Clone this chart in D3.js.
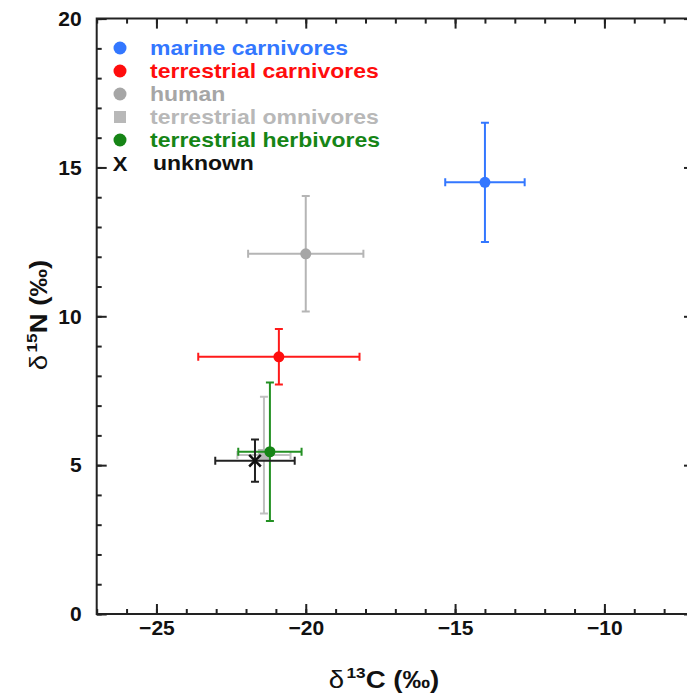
<!DOCTYPE html>
<html>
<head>
<meta charset="utf-8">
<script src="https://cdn.jsdelivr.net/npm/d3@7"></script>
<style>
  body { margin: 0; background: #fff; }
  svg { display: block; font-family: "Liberation Sans", Arial, sans-serif; }
</style>
</head>
<body>
<svg id="chart" width="687" height="694"></svg>
<script>
// groups, means and standard deviations
const groups = ["marine carnivores", "terrestrial carnivores", "human",
                "terrestrial omnivores", "terrestrial herbivores", "unknown"];
const d13C    = [-14.0, -20.9, -20.0, -21.4, -21.2, -21.7];
const d13Cerr = [1.33, 2.7, 1.93, 0.89, 1.06, 1.33];
const d15N    = [14.5, 8.64, 12.1, 5.34, 5.45, 5.15];
const d15Nerr = [2.0, 0.93, 1.94, 1.96, 2.33, 0.71];
const xMajor = [-25, -20, -15, -10];
const yMajor = [0, 5, 10, 15, 20];

const markerColor = d3.scaleOrdinal(groups,
  ["#3377ff", "#ff0d0d", "#a6a6a6", "#b8b8b8", "#168516", "#111111"]);
const barColor = d3.scaleOrdinal(groups,
  ["#3377ff", "#ff1a1a", "#b5b5b5", "#c0c0c0", "#239023", "#222222"]);
const shape = d3.scaleOrdinal(groups, ["circle", "circle", "circle", "square", "circle", "x"]);

const rows = groups.map((g, i) => ({g, x: d13C[i], xe: d13Cerr[i], y: d15N[i], ye: d15Nerr[i]}));

const m = {l: 96.7, t: 18.6, r: 694, b: 614};
const x = d3.scaleLinear().domain([-27, -7]).range([m.l, m.r]);
const y = d3.scaleLinear().domain([0, 20]).range([m.b, m.t]);

const svg = d3.select("#chart");

// minor ticks, every unit, on all four sides
const minorX = d3.range(-27, -6), minorY = d3.range(0, 21);
svg.append("g").attr("transform", "translate(0," + m.b + ")")
  .call(d3.axisBottom(x).tickValues(minorX).tickSize(-5).tickFormat(""));
svg.append("g").attr("transform", "translate(0," + m.t + ")")
  .call(d3.axisTop(x).tickValues(minorX).tickSize(-5).tickFormat(""));
svg.append("g").attr("transform", "translate(" + m.l + ",0)")
  .call(d3.axisLeft(y).tickValues(minorY).tickSize(-5).tickFormat(""));
svg.append("g").attr("transform", "translate(" + m.r + ",0)")
  .call(d3.axisRight(y).tickValues(minorY).tickSize(-5).tickFormat(""));

// major ticks with labels
svg.append("g").attr("class", "xl").attr("transform", "translate(0," + m.b + ")")
  .call(d3.axisBottom(x).tickValues(xMajor).tickSize(-10).tickPadding(6));
svg.append("g").attr("transform", "translate(0," + m.t + ")")
  .call(d3.axisTop(x).tickValues(xMajor).tickSize(-10).tickFormat(""));
svg.append("g").attr("class", "yl").attr("transform", "translate(" + m.l + ",0)")
  .call(d3.axisLeft(y).tickValues(yMajor).tickSize(-10).tickPadding(15));
svg.append("g").attr("transform", "translate(" + m.r + ",0)")
  .call(d3.axisRight(y).tickValues(yMajor).tickSize(-10).tickFormat(""));

svg.selectAll(".domain").remove();
svg.selectAll(".tick line").attr("stroke", "#222").attr("stroke-width", 2);
svg.selectAll(".xl text, .yl text")
  .attr("font-size", 21).attr("font-weight", "bold").attr("fill", "#111")
  .attr("font-family", "Liberation Sans, Arial, sans-serif");

// frame
svg.append("path")
  .attr("d", "M" + m.r + "," + m.t + "H" + m.l + "V" + m.b + "H" + m.r + "V" + m.t)
  .attr("fill", "none").attr("stroke", "#222").attr("stroke-width", 2);

// error bars + markers
const cap = 4;
const pts = svg.append("g").selectAll("g").data(rows).join("g")
  .attr("stroke", d => barColor(d.g)).attr("stroke-width", 2).attr("fill", "none");

pts.append("path").attr("d", d => {
  const x0 = x(d.x - d.xe), x1 = x(d.x + d.xe), yc = y(d.y);
  const y0 = y(d.y - d.ye), y1 = y(d.y + d.ye), xc = x(d.x);
  return "M" + x0 + "," + yc + "H" + x1 +
    "M" + x0 + "," + (yc - cap) + "V" + (yc + cap) +
    "M" + x1 + "," + (yc - cap) + "V" + (yc + cap) +
    "M" + xc + "," + y0 + "V" + y1 +
    "M" + (xc - cap) + "," + y0 + "H" + (xc + cap) +
    "M" + (xc - cap) + "," + y1 + "H" + (xc + cap);
});

pts.each(function(d) {
  const g = d3.select(this), s = shape(d.g), cx = x(d.x), cy = y(d.y);
  if (s === "circle") {
    g.append("circle").attr("cx", cx).attr("cy", cy).attr("r", 5.5)
      .attr("fill", markerColor(d.g)).attr("stroke", "none");
  } else if (s === "square") {
    g.append("rect").attr("x", cx - 6).attr("y", cy - 6).attr("width", 12).attr("height", 12)
      .attr("fill", markerColor(d.g)).attr("stroke", "none");
  } else {
    g.append("path").attr("transform", "translate(" + cx + "," + cy + ")")
      .attr("d", d3.symbol(d3.symbolTimes, 90)())
      .attr("stroke", markerColor(d.g)).attr("stroke-width", 2.5);
  }
});

// legend (text stretched a little, rows are packed tight in the original)
const leg = svg.append("g").selectAll("g").data(groups).join("g")
  .attr("transform", (d, i) => "translate(120," + (48 + i * 23) + ")");
leg.each(function(d) {
  const g = d3.select(this), s = shape(d);
  if (s === "circle") g.append("circle").attr("r", 6.5).attr("fill", markerColor(d));
  else if (s === "square") g.append("rect").attr("x", -6).attr("y", -6)
    .attr("width", 12).attr("height", 12).attr("fill", markerColor(d));
  else g.append("text").attr("text-anchor", "middle").attr("dy", 7.5)
    .attr("font-size", 20).attr("font-weight", "bold").attr("fill", "#111")
    .attr("transform", "scale(1.1,1)").text("X");
});
leg.append("text")
  .attr("transform", d => "translate(" + (shape(d) === "x" ? 33 : 30) + ",0) scale(1.15,1)")
  .attr("dy", 7).attr("font-size", 20).attr("font-weight", "bold")
  .attr("fill", d => shape(d) === "x" ? "#111" : markerColor(d))
  .text(d => d);

// axis titles
const xt = svg.append("text").attr("transform", "translate(384,688) scale(1.15,1)")
  .attr("text-anchor", "middle").attr("font-size", 24).attr("fill", "#111");
xt.append("tspan").text("δ");
xt.append("tspan").attr("font-size", 15).attr("dx", 2).attr("dy", -10).attr("font-weight", "bold").text("13");
xt.append("tspan").attr("dy", 10).attr("font-weight", "bold").text("C (‰)");

const yt = svg.append("text").attr("transform", "translate(47,315) rotate(-90) scale(1.15,1)")
  .attr("text-anchor", "middle").attr("font-size", 24).attr("fill", "#111");
yt.append("tspan").text("δ");
yt.append("tspan").attr("font-size", 15).attr("dx", 2).attr("dy", -10).attr("font-weight", "bold").text("15");
yt.append("tspan").attr("dy", 10).attr("font-weight", "bold").text("N (‰)");
</script>
</body>
</html>
